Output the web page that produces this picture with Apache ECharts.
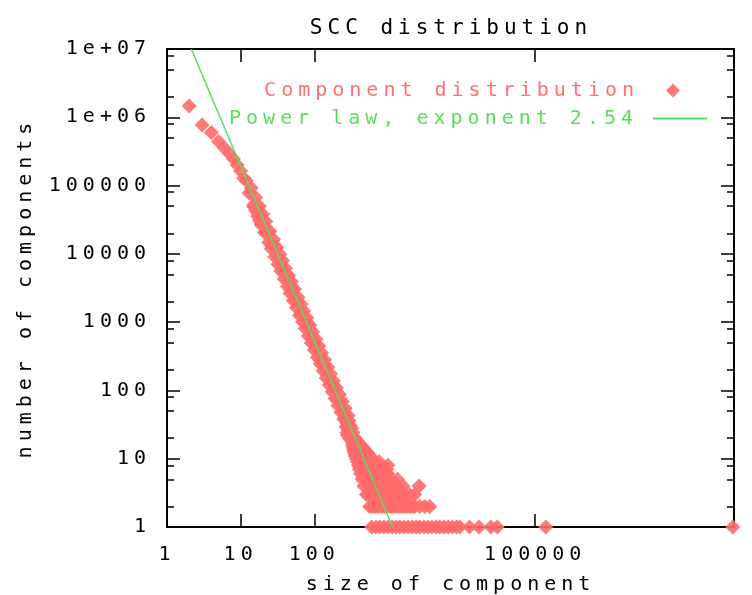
<!DOCTYPE html>
<html><head><meta charset="utf-8">
<script src="https://cdn.jsdelivr.net/npm/echarts@6.0.0/dist/echarts.min.js"></script>
<style>html,body{margin:0;padding:0;background:#fff}#chart{width:752px;height:595px}</style>
</head><body><div id="chart"></div>
<script>
// ---- data: [component size, number of components] ----
const headPoints = [[2,1460000],[3,769000],[4,597000],[5,441000],[6,354000],[7,294000],[8,244000],[9,200000],[10,163000]];
const bandPoints = [
[11,128000],[12,118000],[13,78000],[14,92000],[15,49000],[16,67000],[17,35500],[18,50000],[19,26500],[20,38000],
[21,20600],[22,29800],[23,20900],[24,14700],[25,21500],[26,11900],[27,13400],[28,16200],[29,9050],[31,12500],
[32,7070],[33,8600],[34,9850],[35,5620],[37,7960],[38,5700],[39,4270],[41,6120],[43,3340],[44,4150],
[45,4840],[47,2660],[49,3900],[50,2850],[52,2060],[54,3050],[57,1630],[58,2050],[60,2320],[63,1260],
[66,1830],[68,1290],[69,1010],[72,1460],[75,810],[79,1160],[80,910],[83,627],[87,907],[91,497],
[93,585],[95,725],[100,391],[105,563],[108,425],[110,307],[115,447],[120,246],[125,275],[126,354],
[132,193],[138,281],[142,212],[145,152],[152,220],[159,120],[163,140],[166,175],[174,96],[182,138],
[186,107],[191,76],[200,109],[209,60],[214,70],[219,87],[229,48],[240,69],[245,53],[251,38],
[263,55],[270,39],[275,30],[288,43],
[15,52000],[16,43000],[17,40000],[18,31000],[19,28500]
];
const tailPoints = [
[262,37],[296,36],[282,33],[306,31],[272,29],[322,28],[292,26],[276,24],[335,24],[310,23],[282,22],[345,21],[318,21],
[300,20],[330,20],[354,20],
[322,18],[360,18],[390,18],
[332,16],[375,16],[415,16],
[335,15],[395,15],[455,15],
[340,14],[420,14],
[345,13],[390,13],[445,13],[500,13],
[350,12],[420,12],[480,12],[540,12],
[360,11],[410,11],[470,11],[566,11],
[371,10],[430,10],[500,10],[595,10],
[385,9],[445,9],[510,9],[590,9],[680,9],[760,9],
[395,8],[455,8],[525,8],[610,8],[700,8],[790,8],[1000,8],
[410,7],[475,7],[550,7],[640,7],[740,7],[850,7],[960,7],
[425,6],[490,6],[570,6],[660,6],[760,6],[880,6],[1000,6],
[445,5],[515,5],[600,5],[700,5],[810,5],[940,5],[1100,5],[1350,5],
[470,4],[545,4],[640,4],[740,4],[860,4],[1000,4],[1160,4],[1350,4],[1600,4],[2650,4],
[507,3],[547,3],[590,3],[638,3],[690,3],[743,3],[800,3],[862,3],[930,3],[1000,3],[1080,3],[1165,3],[1260,3],
[1355,3],[1460,3],[1575,3],[1700,3],[1960,3],[2320,3],
[564,2],[610,2],[662,2],[716,2],[774,2],[836,2],[905,2],[980,2],[1060,2],[1145,2],[1240,2],[1340,2],[1450,2],
[1565,2],[1690,2],[1830,2],[1980,2],[2140,2],[2310,2],[2700,2],[3160,2],[3700,2],
[600,1],[684,1],[774,1],[882,1],[1000,1],[1140,1],[1290,1],[1450,1],[1650,1],[1880,1],[2140,1],[2420,1],
[2700,1],[3090,1],[3500,1],[3960,1],[4520,1],[5060,1],[5790,1],[6600,1],[7500,1],[8560,1],[9460,1],
[12800,1],[17200,1],[25000,1],[30500,1],[139000,1],[48300000,1]
];
// power-law fit line, endpoints where it meets the frame
const powerLawX = [2.14, 1160];
const powerLawY = [1e7, 1];
// axes
const xMin = 1, xMax = 5e7, yMin = 1, yMax = 1e7;
const xTickValues = [1, 10, 100, 100000];
const xTickLabels = ['1', '10', '100', '100000'];
const yTickValues = [1, 10, 100, 1000, 10000, 100000, 1e6, 1e7];
const yTickLabels = ['1', '10', '100', '1000', '10000', '100000', '1e+06', '1e+07'];
const yMinorTickValues = [2,5,8,20,50,80,200,500,800,2000,5000,8000,20000,50000,80000,200000,500000,800000,2000000,5000000,8000000];
const seriesNames = ['Component distribution', 'Power law, exponent 2.54'];
const titleText = 'SCC distribution';
const xName = 'size of component';
const yName = 'number of components';

// wide pixel-font look: add letter spacing to all canvas text
(function () {
  const P = CanvasRenderingContext2D.prototype, LS = '5px';
  const f = P.fillText, s = P.strokeText, m = P.measureText;
  P.fillText = function () { this.letterSpacing = LS; return f.apply(this, arguments); };
  P.strokeText = function () { this.letterSpacing = LS; return s.apply(this, arguments); };
  P.measureText = function () { this.letterSpacing = LS; return m.apply(this, arguments); };
})();

const FONT = 'DejaVu Sans Mono';
const RED = '#ff6a6a', GREEN = '#55e055';
function lookup(vals, labels, v) {
  for (let i = 0; i < vals.length; i++) if (Math.abs(Math.log10(vals[i]) - Math.log10(v)) < 1e-6) return labels[i];
  return String(v);
}
const txt = { fontFamily: FONT, fontSize: 20, color: '#000', fontWeight: 'normal' };
const line = { show: true, lineStyle: { color: '#000', width: 2 } };
function xAx(pos, labels) {
  return {
    type: 'log', logBase: 10, min: xMin, max: xMax, position: pos,
    splitLine: { show: false }, minorTick: { show: false },
    axisLine: line,
    axisTick: { show: true, inside: true, length: 13, customValues: xTickValues, lineStyle: { color: '#000', width: 1.5 } },
    axisLabel: labels ? Object.assign({ show: true, margin: 15, customValues: xTickValues,
      formatter: v => lookup(xTickValues, xTickLabels, v) }, txt) : { show: false },
    name: labels ? xName : '', nameLocation: 'middle', nameGap: 43, nameTextStyle: txt
  };
}
function yAx(pos, minor, labels) {
  return {
    type: 'log', logBase: 10, min: yMin, max: yMax, position: pos,
    splitLine: { show: false }, minorTick: { show: false },
    axisLine: minor ? { show: false } : line,
    axisTick: { show: true, inside: true, length: minor ? 7 : 13,
      customValues: minor ? yMinorTickValues : yTickValues, lineStyle: { color: '#000', width: 1.5 } },
    axisLabel: labels ? Object.assign({ show: true, margin: 16, customValues: yTickValues,
      formatter: v => lookup(yTickValues, yTickLabels, v) }, txt) : { show: false },
    name: labels ? yName : '', nameLocation: 'middle', nameGap: 128, nameRotate: 90, nameTextStyle: txt
  };
}
const chart = echarts.init(document.getElementById('chart'), null, { renderer: 'canvas' });
chart.setOption({
  animation: false,
  backgroundColor: '#fff',
  title: { text: titleText, left: 446, top: 11, textAlign: 'center',
    textStyle: { fontFamily: FONT, fontSize: 21, fontWeight: 'normal', color: '#000' } },
  grid: { left: 167, right: 18, top: 49, bottom: 68, containLabel: false, outerBoundsMode: 'none' },
  legend: [
    { data: [{ name: seriesNames[0], icon: 'diamond' }], right: 72, top: 78, align: 'right',
      itemWidth: 14, itemHeight: 14, padding: 0,
      textStyle: { fontFamily: FONT, fontSize: 20, color: '#ff7070', padding: [0, 22, 0, 0] } },
    { data: [{ name: seriesNames[1], icon: 'rect' }], right: 45, top: 106, align: 'right',
      itemWidth: 54, itemHeight: 2, padding: 0,
      textStyle: { fontFamily: FONT, fontSize: 20, color: '#5ade5a', padding: [0, 10, 0, 0] } }
  ],
  xAxis: [xAx('bottom', true), xAx('top', false)],
  yAxis: [yAx('left', false, true), yAx('left', true, false), yAx('right', false, false), yAx('right', true, false)],
  series: [
    { type: 'scatter', name: seriesNames[0], xAxisIndex: 0, yAxisIndex: 0,
      data: headPoints.concat(bandPoints, tailPoints),
      symbol: 'diamond', symbolSize: 15, itemStyle: { color: RED, opacity: 0.9 } },
    { type: 'line', name: seriesNames[1], xAxisIndex: 0, yAxisIndex: 0,
      data: powerLawX.map((x, i) => [x, powerLawY[i]]), symbol: 'none', showSymbol: false,
      lineStyle: { color: GREEN, width: 1.5 }, itemStyle: { color: GREEN } }
  ]
});
</script></body></html>
